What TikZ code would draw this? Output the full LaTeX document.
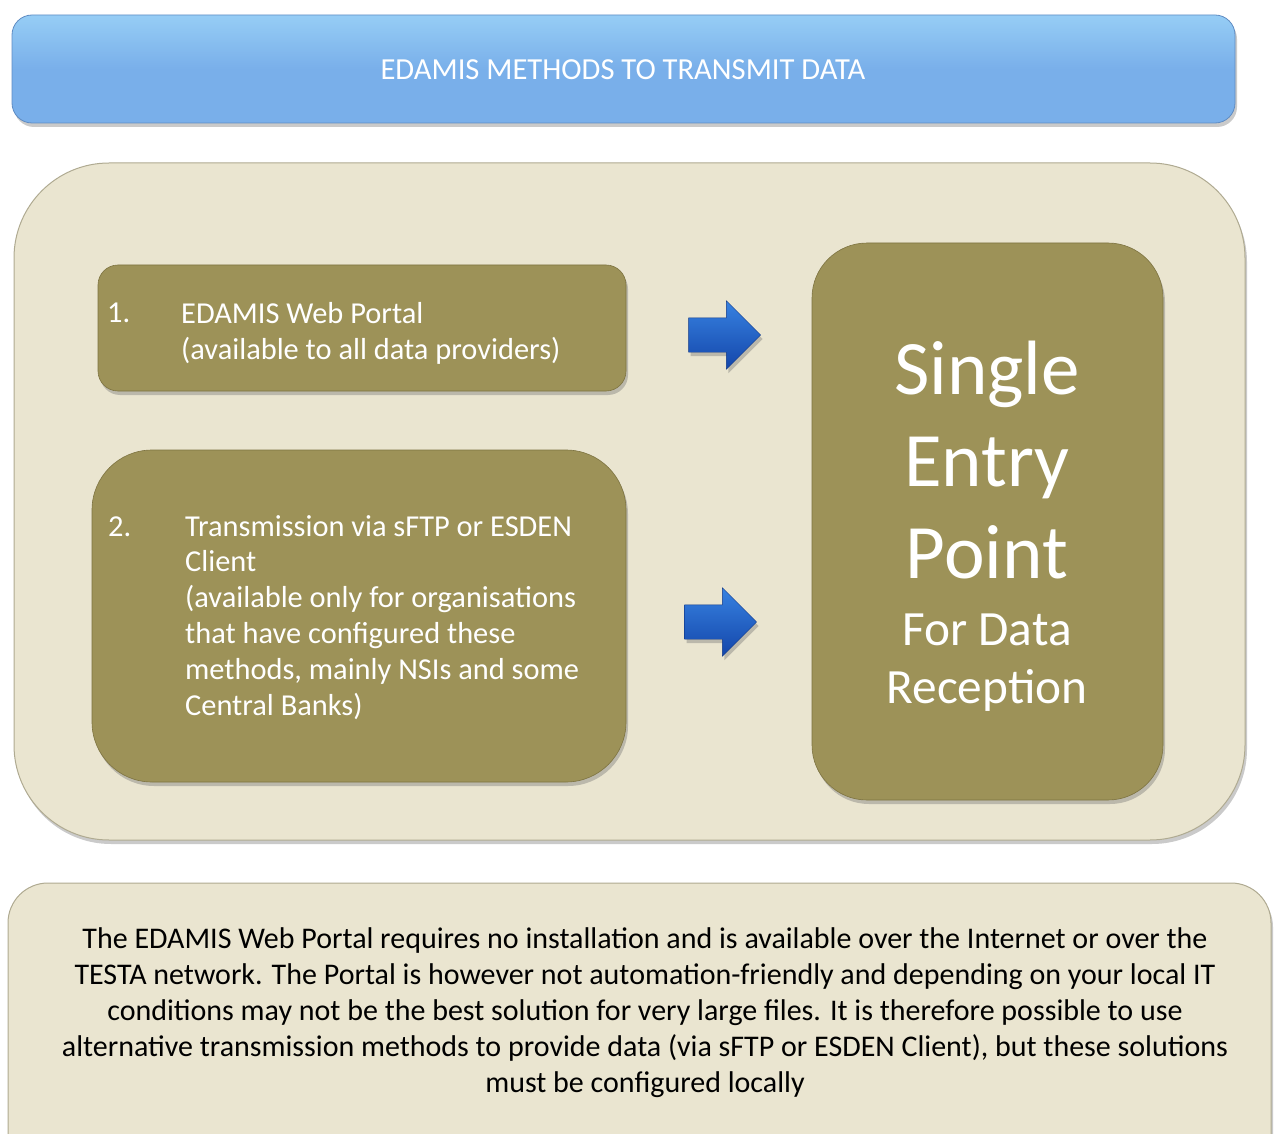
\documentclass[tikz,border=0pt]{standalone}
\usepackage{fontspec}
\setmainfont{Carlito}
\usetikzlibrary{shapes.arrows,shadows}

\definecolor{titleblue}{RGB}{121,175,234}
\definecolor{titlehi}{RGB}{150,205,245}
\definecolor{titleedge}{RGB}{95,140,195}
\definecolor{panelbeige}{RGB}{234,229,208}
\definecolor{paneledge}{RGB}{175,170,145}
\definecolor{olivefill}{RGB}{157,146,88}
\definecolor{oliveedge}{RGB}{125,115,65}
\definecolor{arrowtop}{RGB}{55,130,225}
\definecolor{arrowbot}{RGB}{20,70,170}

\tikzset{
  softshadow/.style={drop shadow={shadow xshift=2pt,shadow yshift=-4pt,opacity=0.35,fill=black!60}},
  titlebar/.style={top color=titlehi,bottom color=titleblue,middle color=titleblue,draw=titleedge,line width=0.8pt,softshadow},
  panel/.style={fill=panelbeige,draw=paneledge,line width=1pt,softshadow},
  olivebox/.style={fill=olivefill,draw=oliveedge,line width=0.6pt,softshadow},
  bluearrow/.style={single arrow,single arrow head extend=17pt,single arrow tip angle=90,
    minimum height=72pt,minimum width=68pt,inner xsep=0pt,inner ysep=17pt,
    top color=arrowtop,bottom color=arrowbot,draw=arrowbot!80!black,line width=0.4pt,softshadow},
  boxtext/.style={text=white,font=\fontsize{30.4}{35.8}\selectfont,align=left,inner sep=0pt},
  note/.style={text=black,font=\fontsize{30}{36}\selectfont,align=center,inner sep=0pt}
}

\begin{document}
\begin{tikzpicture}[x=1pt,y=-1pt]
\useasboundingbox (0,0) rectangle (1275,1134);
\clip (0,0) rectangle (1275,1134);

% heading bar
\draw[titlebar,rounded corners=20pt] (12,15) rectangle (1235,123);
\node[text=white,font=\fontsize{30.6}{36}\selectfont,anchor=base,inner sep=0pt] (title) at (623,80) {EDAMIS METHODS TO TRANSMIT DATA};

% main panel
\draw[panel,rounded corners=95pt] (14,163) rectangle (1245,840);

% method boxes
\draw[olivebox,rounded corners=20pt] (98,265) rectangle (626,391);
\draw[olivebox,rounded corners=60pt] (92,450) rectangle (626,782);
\draw[olivebox,rounded corners=55pt] (812,243) rectangle (1163,800);

% multi-line nodes are placed by the baseline of their last line
\node[boxtext,anchor=base west] (n1) at (107,323) {1.};
\node[boxtext,anchor=base west] (m1) at (181,359) {EDAMIS Web Portal\\(available to all data providers)};

\node[boxtext,anchor=base west] (n2) at (108,536) {2.};
\node[boxtext,anchor=base west] (m2) at (185,715) {Transmission via sFTP or ESDEN\\Client\\(available only for organisations\\that have configured these\\methods, mainly NSIs and some\\Central Banks)};

\node[text=white,font=\fontsize{77}{92}\selectfont,align=center,inner sep=0pt,anchor=base] (sep) at (987,578) {Single\\Entry\\Point};
\node[text=white,font=\fontsize{49.3}{58}\selectfont,align=center,inner sep=0pt,anchor=base] (rec) at (987,703) {For Data\\Reception};

% arrows towards the entry point
\node[bluearrow] (a1) at (716,335) {};
\node[bluearrow] (a2) at (712,622) {};

% explanatory note
\draw[panel,rounded corners=40pt] (8,883) rectangle (1271,1175);
\node[note,anchor=base] (txt) at (645,1092) {The EDAMIS Web Portal requires no installation and is available over the Internet or over the\\TESTA network. The Portal is however not automation-friendly and depending on your local IT\\conditions may not be the best solution for very large files. It is therefore possible to use\\alternative transmission methods to provide data (via sFTP or ESDEN Client), but these solutions\\must be configured locally};
\end{tikzpicture}
\end{document}
